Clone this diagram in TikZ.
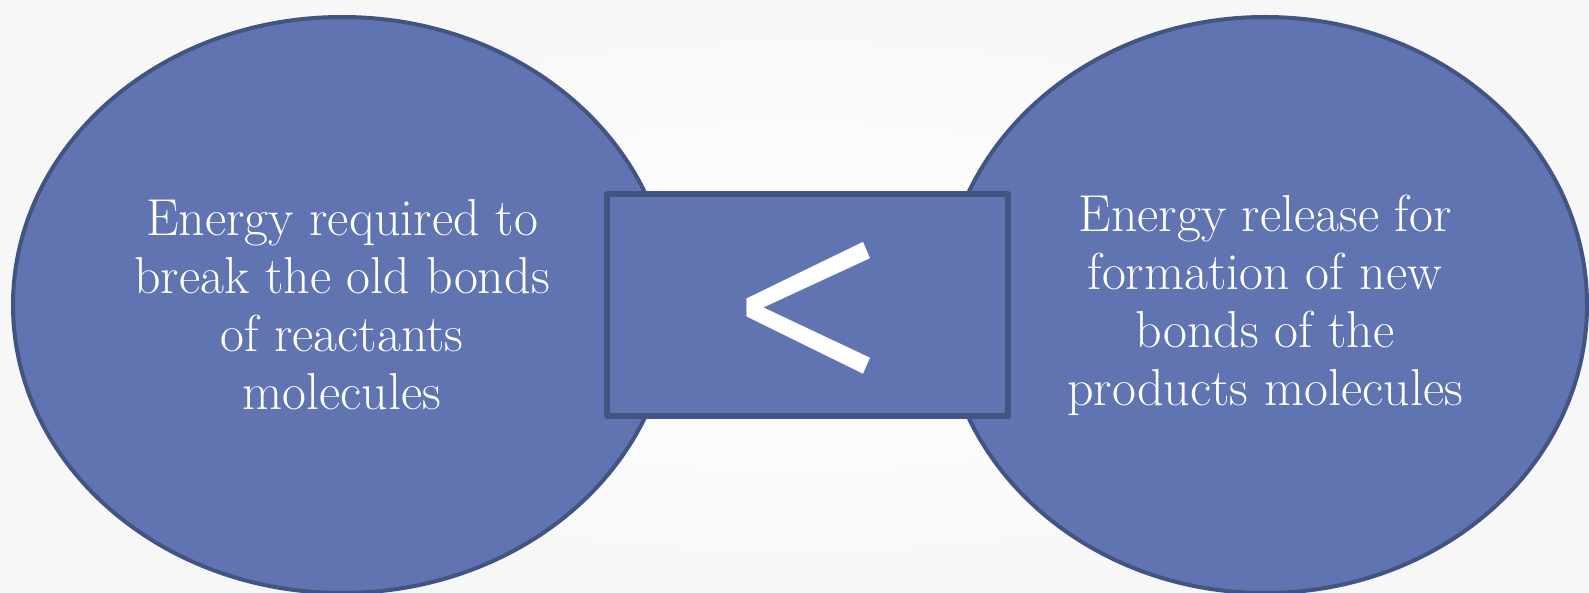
\documentclass[tikz,border=0pt]{standalone}
\usepackage{fontspec}
\newfontfamily\signfont{Fira Sans}[UprightFont=* Light]
\usetikzlibrary{shapes.geometric}
\definecolor{bubblefill}{RGB}{95,116,176}
\definecolor{bubbleedge}{RGB}{66,84,130}

\begin{document}
\begin{tikzpicture}[x=1pt,y=-1pt,line join=round,
  bubble/.style={ellipse,draw=bubbleedge,fill=bubblefill,line width=4pt,
    inner sep=0pt,minimum height=576pt,text=white,align=center,
    font=\fontsize{52}{58}\selectfont},
  signbox/.style={rectangle,draw=bubbleedge,fill=bubblefill,line width=5.5pt,
    minimum width=401pt,minimum height=222pt},
  signtext/.style={inner sep=0pt,text=white,
    font=\signfont\fontsize{335}{335}\selectfont}]
  \shade[inner color=white,outer color=gray!6] (0,0) rectangle (1589,593);
  \useasboundingbox (0,0) rectangle (1589,593);

  \node[bubble,minimum width=658pt] (reactants) at (342,305)
    {Energy required to\\break the old bonds\\of reactants\\molecules};
  \node[bubble,minimum width=644pt] (products) at (1265,305)
    {Energy release for\\formation of new\\bonds of the\\products molecules};

  \node[signbox] (less) at (807.5,305) {};
  \node[signtext] (lesssign) at ([xshift=1.5pt,yshift=-26pt]less.center) {<};
\end{tikzpicture}
\end{document}
